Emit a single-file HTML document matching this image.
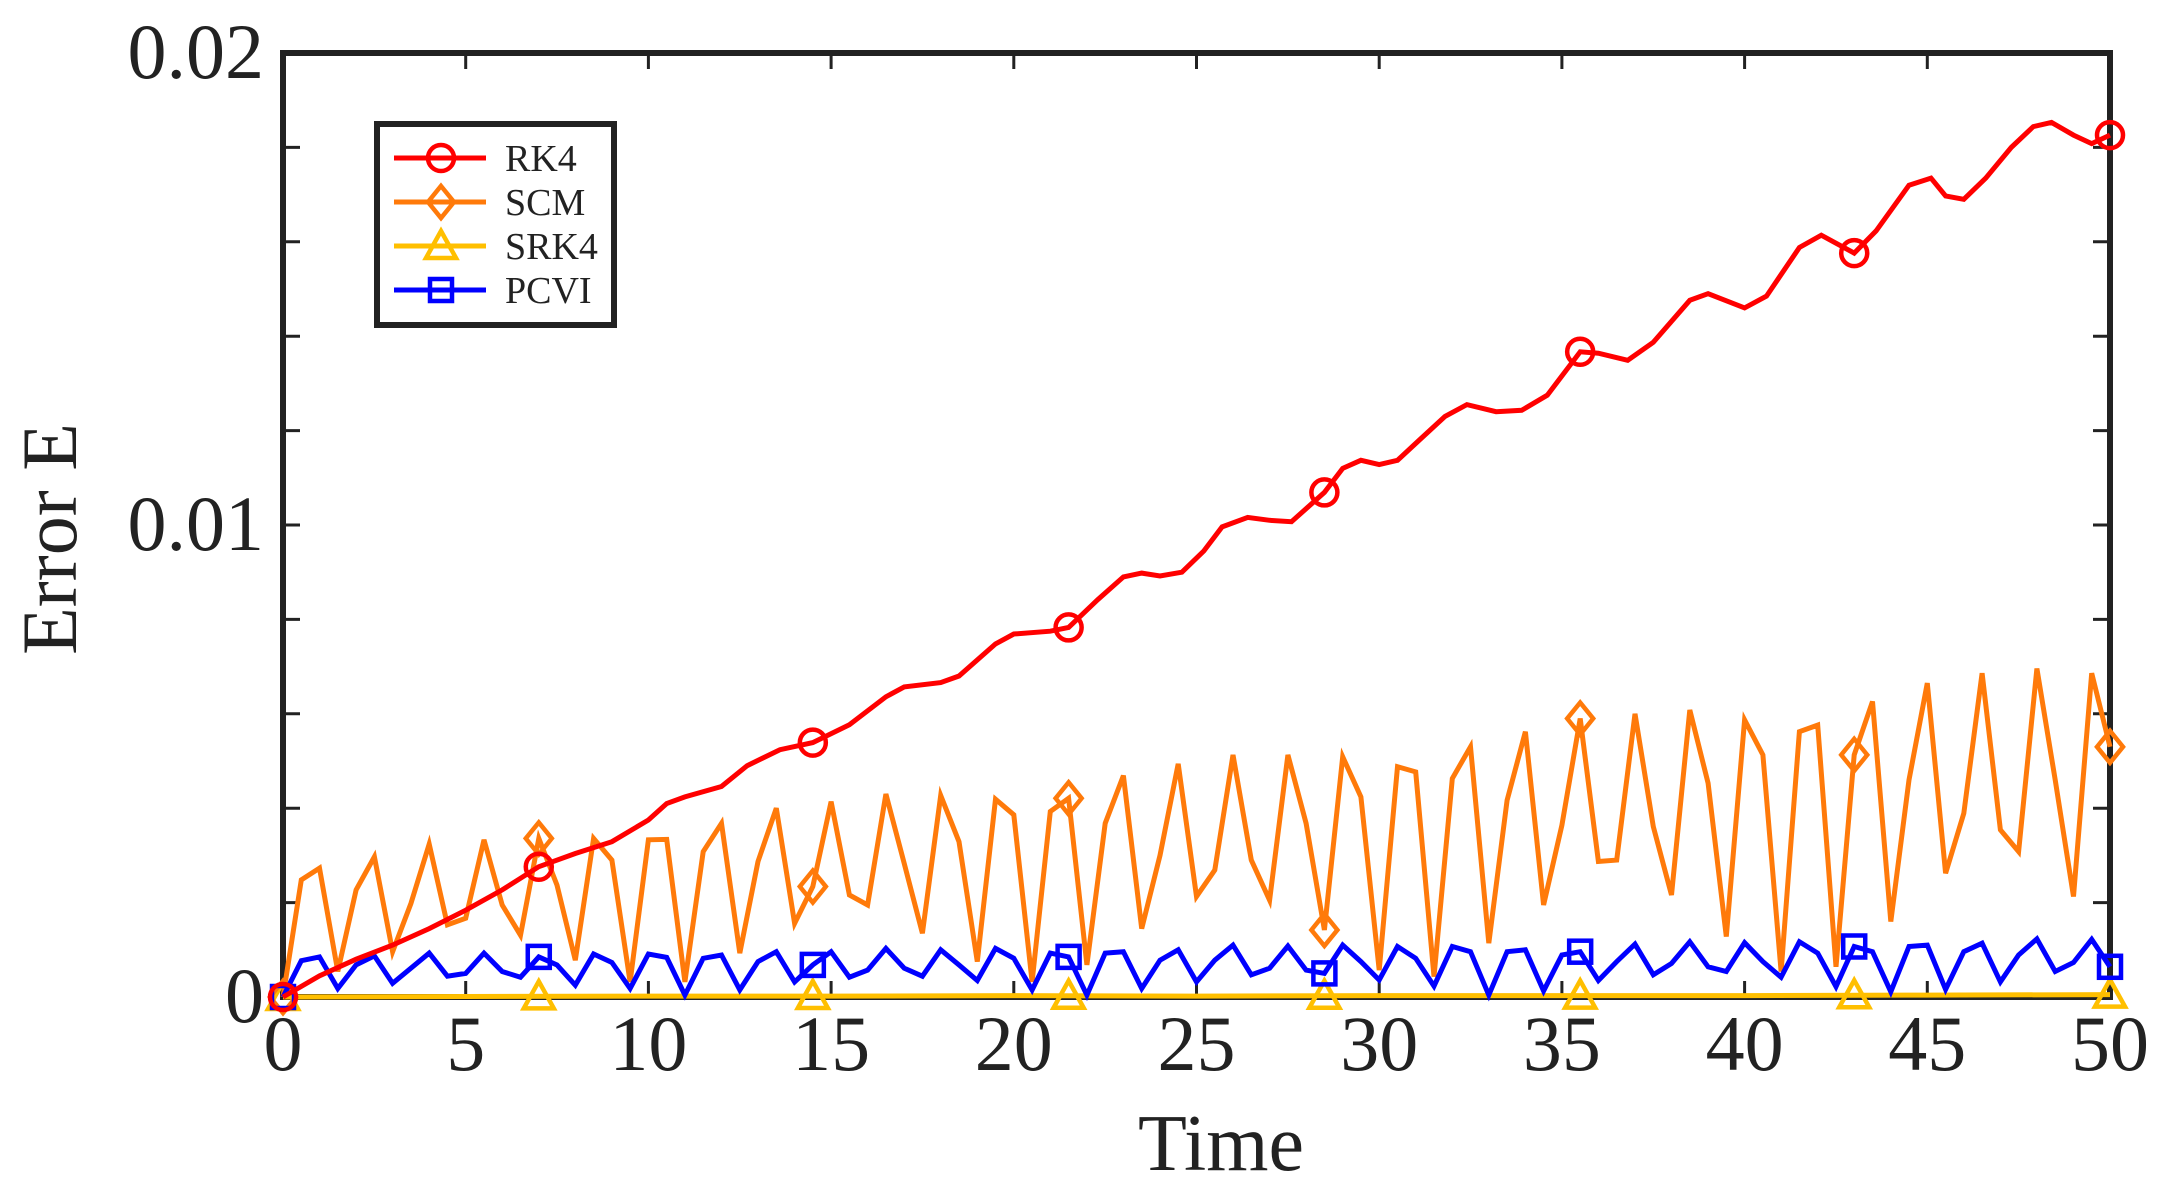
<!DOCTYPE html>
<html><head><meta charset="utf-8"><style>
html,body{margin:0;padding:0;background:#fff;}
svg{display:block;font-family:"Liberation Serif",serif;}
</style></head><body>
<svg id="chart" width="2178" height="1196" viewBox="0 0 2178 1196" xmlns="http://www.w3.org/2000/svg">
<rect x="0" y="0" width="2178" height="1196" fill="#fff"/>
<g id="axes"></g>
<g id="series"></g>
<text x="1221" y="1170" font-size="80" text-anchor="middle" fill="#222">Time</text>
<text transform="translate(76,539) rotate(-90)" font-size="78" text-anchor="middle" fill="#222">Error E</text>
<g id="legend"></g>
</svg>
<script>
// ---- data (error values in units of 1e-3) ----
const scmValues = [0,2.48,2.73,0.54,2.27,2.97,0.96,1.98,3.24,1.53,1.67,3.33,1.95,1.31,3.36,2.37,0.78,3.36,2.9,0.32,3.33,3.34,0.32,3.08,3.68,0.93,
2.87,4.0,1.56,2.34,4.14,2.16,1.95,4.3,2.83,1.35,4.27,3.29,0.75,4.19,3.86,0.32,3.93,4.21,0.68,3.68,4.69,1.45,3.0,4.94,2.13,
2.69,5.13,2.9,2.05,5.13,3.68,1.42,5.09,4.24,0.57,4.88,4.77,0.43,4.63,5.3,1.14,4.17,5.62,1.95,3.64,5.9,2.87,2.9,6.0,3.61,
2.16,6.08,4.53,1.28,5.87,5.13,0.54,5.62,5.76,0.64,5.13,6.26,1.6,4.6,6.65,2.62,3.89,6.86,3.54,3.08,6.96,4.6,2.13,6.86,5.3];
const pcviValues = [0,0.77,0.85,0.18,0.68,0.87,0.29,0.61,0.93,0.44,0.5,0.93,0.54,0.42,0.85,0.68,0.25,0.91,0.73,0.18,0.91,0.84,0.04,0.82,0.89,0.15,
0.75,0.96,0.32,0.68,0.96,0.42,0.57,1.03,0.61,0.44,1.0,0.68,0.35,1.03,0.82,0.15,0.93,0.85,0.04,0.93,0.96,0.18,0.78,1.0,0.32,
0.78,1.1,0.47,0.61,1.08,0.57,0.5,1.1,0.75,0.36,1.07,0.82,0.23,1.07,0.96,0.04,0.96,1.0,0.13,0.89,0.96,0.35,0.75,1.12,0.47,
0.71,1.17,0.64,0.54,1.15,0.75,0.42,1.17,0.93,0.22,1.07,0.96,0.11,1.07,1.1,0.16,0.96,1.14,0.32,0.89,1.23,0.54,0.73,1.22,0.64];
const gridStep = 0.5;
const rk4Times = [0,1,2,3,4,5,6,7,8,9,10,10.5,11,12,12.7,13.6,14.5,15.5,16.5,17,18,18.5,19.5,20,21,21.5,22.3,23,23.5,24,24.6,25.2,25.7,26.4,27,27.6,28.5,29,29.5,30,30.5,31.1,31.8,32.4,33.2,33.9,34.6,35.5,36,36.8,37.5,38.5,39,40,40.6,41.5,42.1,43,43.6,44.5,45.1,45.5,46,46.6,47.3,47.9,48.4,49,49.5,50];
const rk4Values = [0,0.45,0.8,1.1,1.45,1.84,2.27,2.76,3.04,3.29,3.75,4.1,4.24,4.46,4.9,5.24,5.39,5.77,6.36,6.57,6.66,6.8,7.48,7.69,7.75,7.83,8.42,8.9,8.98,8.92,9.0,9.45,9.96,10.16,10.1,10.07,10.69,11.2,11.37,11.28,11.37,11.8,12.3,12.55,12.4,12.43,12.75,13.67,13.64,13.49,13.87,14.76,14.9,14.6,14.85,15.88,16.14,15.76,16.23,17.2,17.35,16.97,16.9,17.35,18.0,18.44,18.53,18.26,18.08,18.26];
const srk4Times = [0,5,10,15,20,25,30,35,40,45,50];
const srk4Values = [0,0.01,0.02,0.02,0.03,0.02,0.03,0.03,0.03,0.04,0.05];
const markerTimes = [0,7,14.5,21.5,28.5,35.5,43,50];
const xTickLabels = ["0","5","10","15","20","25","30","35","40","45","50"];
const xTickValues = [0,5,10,15,20,25,30,35,40,45,50];
const yTickLabels = ["0","0.01","0.02"];
const yTickValues = [0,10,20];
const yMinorValues = [0,2,4,6,8,10,12,14,16,18,20];
const legendLabels = ["RK4","SCM","SRK4","PCVI"];

// ---- axis functions ----
const L=283, R=2110, T=53, B=997;
const X = t => L + (t/50)*(R-L);
const Y = v => B - (v/20)*(B-T);
const NS="http://www.w3.org/2000/svg";
function mk(tag, attrs, parent){const e=document.createElementNS(NS,tag);for(const k in attrs)e.setAttribute(k,attrs[k]);parent.appendChild(e);return e;}
function interp(ts, vs, t){for(let i=0;i<ts.length-1;i++){if(t>=ts[i]&&t<=ts[i+1]){const f=(t-ts[i])/(ts[i+1]-ts[i]);return vs[i]+f*(vs[i+1]-vs[i]);}}return vs[vs.length-1];}
const gridTimes = scmValues.map((_,i)=>i*gridStep);

const series=[
 {name:"rk4",color:"#ff0000",ts:rk4Times,vs:rk4Values,marker:"circle"},
 {name:"scm",color:"#ff7a0a",ts:gridTimes,vs:scmValues,marker:"diamond"},
 {name:"srk4",color:"#ffbf00",ts:srk4Times,vs:srk4Values,marker:"triangle"},
 {name:"pcvi",color:"#0000ff",ts:gridTimes,vs:pcviValues,marker:"square"}
];

// ---- axes (drawn first so lines overlay) ----
const ag=document.getElementById('axes');
const frame=mk('rect',{x:L,y:T,width:R-L,height:B-T,fill:'none',stroke:'#222','stroke-width':6},ag);


xTickValues.forEach((v,i)=>{
  const x=X(v);
  const t1=mk('line',{x1:x,y1:B,x2:x,y2:B-16,stroke:'#222','stroke-width':3},ag);
  
  
  mk('line',{x1:x,y1:T,x2:x,y2:T+16,stroke:'#222','stroke-width':3},ag);
  const lb=mk('text',{x:x,y:1070,'font-size':78,'text-anchor':'middle',fill:'#222'},ag);
  lb.textContent=xTickLabels[i];
  
  
});
yMinorValues.forEach(v=>{
  const y=Y(v);
  const t1=mk('line',{x1:L,y1:y,x2:L+17,y2:y,stroke:'#222','stroke-width':3},ag);
  
  
  mk('line',{x1:R,y1:y,x2:R-17,y2:y,stroke:'#222','stroke-width':3},ag);
});
yTickValues.forEach((v,i)=>{
  const lb=mk('text',{x:264,y:Y(v)+25,'font-size':78,'text-anchor':'end',fill:'#222'},ag);
  lb.textContent=yTickLabels[i];
  
  
});

const sg=document.getElementById('series');
function drawMarker(g,type,cx,cy,color){
  let m;
  if(type==="circle") m=mk('circle',{cx:cx,cy:cy,r:13,fill:'none',stroke:color,'stroke-width':4.5},g);
  else if(type==="diamond") m=mk('polygon',{points:`${cx},${cy-16} ${cx+13},${cy} ${cx},${cy+16} ${cx-13},${cy}`,fill:'none',stroke:color,'stroke-width':4.5},g);
  else if(type==="triangle") m=mk('polygon',{points:`${cx},${cy-15} ${cx+15},${cy+12} ${cx-15},${cy+12}`,fill:'none',stroke:color,'stroke-width':4.5},g);
  else m=mk('rect',{x:cx-11,y:cy-11,width:22,height:22,fill:'none',stroke:color,'stroke-width':4.5},g);
  return m;
}
const drawOrder=[2,1,3,0];
drawOrder.forEach(idx=>{
  const s=series[idx];
  const g=mk('g',{},sg);
  
  
  const pts=s.ts.map((t,i)=>X(t).toFixed(1)+','+Y(s.vs[i]).toFixed(1)).join(' ');
  const line=mk('polyline',{points:pts,fill:'none',stroke:s.color,'stroke-width':5,'stroke-linejoin':'miter'},g);
  
  
  markerTimes.forEach(t=>{
    const m=drawMarker(g,s.marker,X(t),Y(interp(s.ts,s.vs,t)),s.color);
    
    
  });
});

// ---- legend ----
const lg=document.getElementById('legend');
const box=mk('rect',{x:377,y:124,width:237,height:201,fill:'#fff',stroke:'#222','stroke-width':6},lg);


const legendY=[158,202,246,290];
series.forEach((s,i)=>{
  const g=mk('g',{},lg);
  
  
  mk('line',{x1:394,y1:legendY[i],x2:486,y2:legendY[i],stroke:s.color,'stroke-width':5},g);
  drawMarker(g,s.marker,441,legendY[i],s.color);
  const tx=mk('text',{x:505,y:legendY[i]+13,'font-size':38,fill:'#222'},g);
  tx.textContent=legendLabels[i];
});
</script>
</body></html>
